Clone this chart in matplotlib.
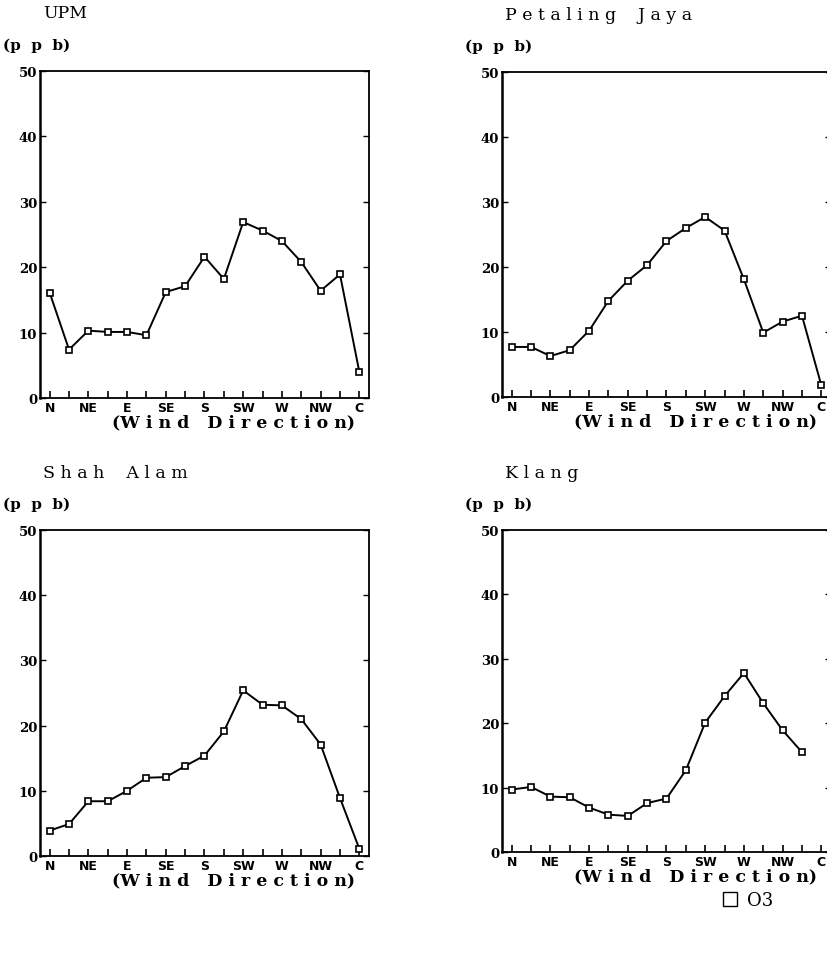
import matplotlib.pyplot as plt
from matplotlib.lines import Line2D

# 17 wind sectors (16 directions + calm), labels on every other tick
directions = ['N', 'NNE', 'NE', 'ENE', 'E', 'ESE', 'SE', 'SSE', 'S',
              'SSW', 'SW', 'WSW', 'W', 'WNW', 'NW', 'NNW', 'C']
tick_labels = ['N', '', 'NE', '', 'E', '', 'SE', '', 'S',
               '', 'SW', '', 'W', '', 'NW', '', 'C']
yticks = [0, 10, 20, 30, 40, 50]

upm = [16.1, 7.4, 10.3, 10.1, 10.1, 9.6, 16.2, 17.1, 21.6,
       18.2, 26.9, 25.6, 24.0, 20.8, 16.4, 18.9, 4.0]
petaling_jaya = [7.7, 7.7, 6.3, 7.2, 10.2, 14.8, 17.9, 20.3, 24.0,
                 26.0, 27.7, 25.6, 18.1, 9.9, 11.6, 12.5, 1.8]
shah_alam = [3.9, 4.9, 8.4, 8.4, 10.0, 12.0, 12.1, 13.8, 15.4,
             19.1, 25.4, 23.2, 23.1, 21.0, 17.1, 8.9, 1.1]
klang = [9.7, 10.1, 8.6, 8.5, 6.9, 5.8, 5.6, 7.6, 8.3,
         12.7, 20.1, 24.2, 27.8, 23.1, 18.9, 15.5]  # no calm value

titles = ['UPM', 'P e t a l i n g    J a y a', 'S h a h    A l a m', 'K l a n g']
series = [upm, petaling_jaya, shah_alam, klang]

W, H = 828, 970
fig = plt.figure(figsize=(W / 100, H / 100), dpi=100)

# panel boxes in pixels: left, top, right, bottom
boxes = [(40, 72, 369, 399), (502, 73, 831, 398),
         (40, 531, 369, 857), (502, 531, 831, 853)]

serif = 'DejaVu Serif'
for box, title, vals in zip(boxes, titles, series):
    l, t, r, b = box
    ax = fig.add_axes([l / W, 1 - b / H, (r - l) / W, (b - t) / H])
    x = list(range(len(vals)))
    ax.plot(x, vals, color='black', lw=1.4, marker='s', markersize=5,
            mfc='white', mec='black', mew=1.2)
    ax.set_xlim(-0.5, 16.5)
    ax.set_ylim(0, 50)
    ax.set_xticks(range(len(directions)))
    ax.set_xticklabels(tick_labels, fontsize=9, fontweight='bold',
                       family='DejaVu Sans')
    ax.set_yticks(yticks)
    ax.set_yticklabels([str(v) for v in yticks], fontsize=9.5, fontweight='bold',
                       family=serif)
    ax.tick_params(axis='x', direction='in', length=5, width=1.2, pad=2)
    ax.tick_params(axis='y', direction='in', length=4, width=1.0, pad=2,
                   right=True)
    for s in ax.spines.values():
        s.set_linewidth(1.3)
    ax.spines['left'].set_linewidth(1.8)

    # labels placed in pixel positions relative to the panel
    fig.text((l + 3) / W, 1 - (t - 58) / H, title, fontsize=12.5,
             family=serif, va='center', ha='left')
    fig.text((l - 37) / W, 1 - (t - 26) / H, '(p  p  b)', fontsize=11,
             fontweight='bold', family=serif, va='center', ha='left')
    fig.text((l + 72) / W, 1 - (b + 24) / H, '(W i n d   D i r e c t i o n)',
             fontsize=12.5, fontweight='bold', family=serif, va='center',
             ha='left')

handle = Line2D([], [], ls='none', marker='s', markersize=10,
                mfc='white', mec='black', mew=1.0)
fig.legend([handle], ['O3'], loc='center left',
           bbox_to_anchor=(705 / W, 1 - 901 / H), frameon=False,
           prop={'family': serif, 'size': 13}, handletextpad=0.4,
           handlelength=1.0)

fig.savefig('out.png', dpi=100)
